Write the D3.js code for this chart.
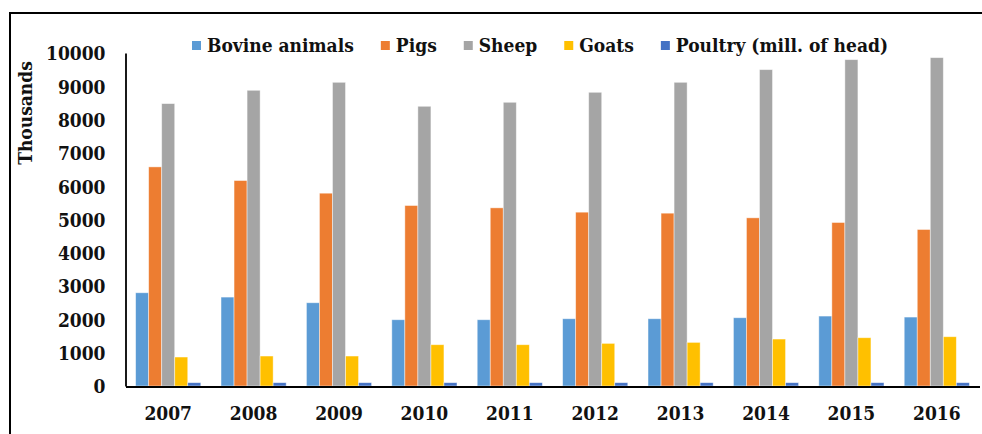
<!DOCTYPE html>
<html>
<head>
<meta charset="utf-8">
<script src="https://cdn.jsdelivr.net/npm/d3@7/dist/d3.min.js"></script>
<style>
  html, body { margin: 0; padding: 0; background: #fff; }
  svg text {
    font-family: "DejaVu Serif Condensed", "DejaVu Serif", serif;
    font-stretch: condensed;
    font-weight: bold;
    fill: #111;
  }
</style>
</head>
<body>
<svg id="chart" width="982" height="434"></svg>
<script>
// Livestock numbers by year (thousands; poultry in million head)
const years = ["2007", "2008", "2009", "2010", "2011", "2012", "2013", "2014", "2015", "2016"];
const seriesNames = ["Bovine animals", "Pigs", "Sheep", "Goats", "Poultry (mill. of head)"];
const bovine  = [2800, 2670, 2500, 1990, 1990, 2020, 2020, 2050, 2100, 2070];
const pigs    = [6580, 6170, 5790, 5420, 5350, 5220, 5190, 5050, 4910, 4700];
const sheep   = [8480, 8880, 9120, 8400, 8520, 8820, 9120, 9500, 9800, 9860];
const goats   = [870, 900, 900, 1240, 1240, 1280, 1310, 1410, 1450, 1480];
const poultry = [100, 100, 100, 100, 100, 100, 100, 100, 100, 100];
const yTicks  = [0, 1000, 2000, 3000, 4000, 5000, 6000, 7000, 8000, 9000, 10000];
const colors  = ["#5B9BD5", "#ED7D31", "#A5A5A5", "#FFC000", "#4472C4"];

const seriesValues = [bovine, pigs, sheep, goats, poultry];

const svg = d3.select("#chart");

// Outer frame (top and left edges)
svg.append("path")
  .attr("d", "M10,434 L10,13 L982,13")
  .attr("fill", "none")
  .attr("stroke", "#000")
  .attr("stroke-width", 2);

const x0 = d3.scaleBand().domain(years).range([125.5, 979.5]).padding(0);
const bw = x0.bandwidth();
const groupW = bw * 0.763;
const x1 = d3.scaleBand().domain(seriesNames)
  .range([(bw - groupW) / 2, (bw + groupW) / 2]).padding(0);
const y = d3.scaleLinear().domain([0, 10000]).range([386, 53]);
const color = d3.scaleOrdinal().domain(seriesNames).range(colors);

// Bars
const groups = svg.append("g").selectAll("g")
  .data(years)
  .join("g")
  .attr("transform", d => `translate(${x0(d)},0)`);

groups.selectAll("rect")
  .data((yr, i) => seriesNames.map((s, k) => ({ s, v: seriesValues[k][i] })))
  .join("rect")
  .attr("x", d => x1(d.s))
  .attr("width", x1.bandwidth())
  .attr("y", d => y(d.v))
  .attr("height", d => y(0) - y(d.v))
  .attr("fill", d => color(d.s))
  .attr("stroke", "#fff")
  .attr("stroke-opacity", 0.55)
  .attr("stroke-width", 0.8);

// Y axis
const yAxis = d3.axisLeft(y).tickValues(yTicks).tickSize(0).tickPadding(20).tickFormat(d3.format("d"));
const gy = svg.append("g").attr("transform", "translate(125.5,0)").call(yAxis);
gy.select(".domain").attr("stroke", "#000").attr("stroke-width", 1.8);
gy.selectAll("text").attr("font-size", 19).attr("dy", "0.36em")
  .style("font-family", null);

// X axis
const xAxis = d3.axisBottom(x0).tickSize(0).tickPadding(20);
const gx = svg.append("g").attr("transform", "translate(0,386.5)").call(xAxis);
gx.select(".domain").attr("stroke", "#000").attr("stroke-width", 2);
gx.selectAll("text").attr("font-size", 19);
svg.selectAll(".tick text").attr("font-family", null).attr("fill", "#111");

// Y axis title
svg.append("text")
  .attr("transform", "translate(32,113) rotate(-90)")
  .attr("text-anchor", "middle")
  .attr("font-size", 19)
  .text("Thousands");

// Legend
const legend = svg.append("g").attr("transform", "translate(192,0)");
let lx = 0;
seriesNames.forEach((s, i) => {
  const item = legend.append("g").attr("transform", `translate(${lx},0)`);
  item.append("rect").attr("x", 0).attr("y", 41).attr("width", 9).attr("height", 9)
    .attr("fill", colors[i]);
  const t = item.append("text").attr("x", 15).attr("y", 52)
    .attr("font-size", 19).text(s);
  lx += 15 + t.node().getComputedTextLength() + 27;
});
</script>
</body>
</html>
